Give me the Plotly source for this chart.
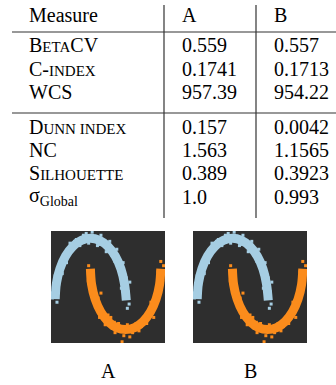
import plotly.graph_objects as go

W, H = 336, 385

# ---- table data ----
header = ["Measure", "A", "B"]
measures_top = ["B<span style='font-size:15px'>ETA</span>CV",
                "C-<span style='font-size:15px'>INDEX</span>",
                "WCS"]
values_a_top = ["0.559", "0.1741", "957.39"]
values_b_top = ["0.557", "0.1713", "954.22"]
measures_bot = ["D<span style='font-size:15px'>UNN INDEX</span>",
                "NC",
                "S<span style='font-size:15px'>ILHOUETTE</span>",
                "σ<sub>Global</sub>"]
values_a_bot = ["0.157", "1.563", "0.389", "1.0"]
values_b_bot = ["0.0042", "1.1565", "0.3923", "0.993"]
panel_labels = ["A", "B"]

# ---- moons data ----
blue_line_x = [1.02, 0.966, 0.866, 0.707, 0.5, 0.259, 0.0, -0.259, -0.5, -0.707, -0.866, -0.966, -1.0]
blue_line_y = [-0.02, 0.259, 0.5, 0.707, 0.866, 0.966, 1.0, 0.966, 0.866, 0.707, 0.5, 0.259, 0.0]
orange_line_x = [0.0, 0.034, 0.134, 0.293, 0.5, 0.741, 1.0, 1.259, 1.5, 1.707, 1.866, 1.966, 2.0]
orange_line_y = [0.5, 0.241, 0.0, -0.207, -0.366, -0.466, -0.5, -0.466, -0.366, -0.207, 0.0, 0.241, 0.5]

blue_pts_x = [0.95, 1.08, 0.9, 1.02, 0.8, 0.93, 0.62, 0.75, 0.45, 0.55, 0.2, 0.3, -0.05, 0.05,
              -0.3, -0.2, -0.55, -0.45, -0.78, -0.65, -0.95, -0.8, -1.05, -0.9, -1.08, -0.95,
              1.1, 0.02, 0.85, 0.38, -0.12, -0.68, -1.0, 1.05, 0.98, 0.7, 0.12, -0.4,
              -0.85, -1.1, 0.88, 0.6, -0.58, 0.25, -0.92, 1.12]
blue_pts_y = [0.05, 0.12, 0.3, 0.35, 0.55, 0.6, 0.72, 0.82, 0.78, 0.95, 0.88, 1.05, 0.92, 1.1,
              0.88, 1.05, 0.78, 0.95, 0.62, 0.8, 0.45, 0.42, 0.2, 0.25, 0.02, -0.05,
              -0.08, 1.15, 0.45, 0.93, 1.08, 0.6, 0.38, -0.15, 0.2, 0.62, 1.02, 0.98,
              0.58, 0.1, 0.18, 0.85, 0.92, 0.9, 0.1, 0.28]
orange_pts_x = [-0.05, 0.08, -0.06, 0.1, 0.05, 0.22, 0.2, 0.38, 0.42, 0.58, 0.7, 0.8, 0.95, 1.05,
                1.2, 1.3, 1.45, 1.55, 1.65, 1.78, 1.8, 1.95, 1.88, 2.05, 1.92, 2.08, 0.9, 0.3,
                0.62, 1.12, 1.38, 1.72, 0.15, 2.0, 0.02, 0.26, 0.5, 0.85, 1.6, 1.98, 1.85, 0.68]
orange_pts_y = [0.55, 0.45, 0.3, 0.2, 0.05, 0.02, -0.15, -0.25, -0.42, -0.3, -0.55, -0.4, -0.6, -0.42,
                -0.55, -0.4, -0.45, -0.3, -0.28, -0.12, -0.3, 0.05, 0.2, 0.3, 0.45, 0.55, -0.7, 0.1,
                -0.48, -0.62, -0.52, -0.05, -0.08, 0.62, 0.12, -0.3, -0.26, -0.52, -0.4, 0.38, -0.05, -0.38]

BLUE = "#a6cee3"
ORANGE = "#fb8c1c"
BG = "#2e2e2e"
FONT = "Liberation Serif"

fig = go.Figure()

for k, ax in enumerate(["", "2"]):
    xa, ya = "x" + ax, "y" + ax
    fig.add_trace(go.Scatter(x=blue_line_x, y=blue_line_y, mode="lines",
                             line=dict(color=BLUE, width=9, shape="spline"),
                             xaxis=xa, yaxis=ya, showlegend=False, hoverinfo="skip"))
    fig.add_trace(go.Scatter(x=orange_line_x, y=orange_line_y, mode="lines",
                             line=dict(color=ORANGE, width=9, shape="spline"),
                             xaxis=xa, yaxis=ya, showlegend=False, hoverinfo="skip"))
    fig.add_trace(go.Scatter(x=blue_pts_x, y=blue_pts_y, mode="markers",
                             marker=dict(color=BLUE, size=3, symbol="square"),
                             xaxis=xa, yaxis=ya, showlegend=False))
    fig.add_trace(go.Scatter(x=orange_pts_x, y=orange_pts_y, mode="markers",
                             marker=dict(color=ORANGE, size=3, symbol="square"),
                             xaxis=xa, yaxis=ya, showlegend=False))

axis_common = dict(showgrid=False, zeroline=False, showticklabels=False, ticks="",
                   showline=False, fixedrange=True)
ydom = [1 - 343 / H, 1 - 231 / H]
fig.update_layout(
    width=W, height=H, margin=dict(l=0, r=0, t=0, b=0),
    paper_bgcolor="white", plot_bgcolor=BG, showlegend=False,
    xaxis=dict(domain=[51 / W, 165 / W], range=[-1.12, 2.12], **axis_common),
    yaxis=dict(domain=ydom, range=[-0.72, 1.12], **axis_common),
    xaxis2=dict(domain=[193 / W, 307 / W], range=[-1.12, 2.12], **axis_common),
    yaxis2=dict(domain=ydom, range=[-0.72, 1.12], anchor="x2", **axis_common),
)
fig.layout.xaxis2.anchor = "y2"

# ---- table text ----
col_x = [27, 180, 272]
ann = []
def add_text(txt, px, py, size=20, xanchor="left"):
    ann.append(dict(text=txt, x=px / W, y=1 - py / H, xref="paper", yref="paper",
                    xanchor=xanchor, yanchor="middle", showarrow=False,
                    font=dict(family=FONT, size=size, color="black")))

header_y = 15
for j, h in enumerate(header):
    add_text(h, col_x[j], header_y)

top_y0, bot_y0, step = 45.5, 127, 23.2
for i, (m, a, b) in enumerate(zip(measures_top, values_a_top, values_b_top)):
    y = top_y0 + i * step
    add_text(m, col_x[0], y); add_text(a, col_x[1], y); add_text(b, col_x[2], y)
for i, (m, a, b) in enumerate(zip(measures_bot, values_a_bot, values_b_bot)):
    y = bot_y0 + i * step
    add_text(m, col_x[0], y); add_text(a, col_x[1], y); add_text(b, col_x[2], y)

for lab, cx in zip(panel_labels, [108, 250]):
    add_text(lab, cx, 371, xanchor="center")

fig.update_layout(annotations=ann)

# ---- table rules ----
line_col = "#333333"
shapes = []
for yy in [32, 113]:
    shapes.append(dict(type="line", xref="paper", yref="paper", x0=12 / W, x1=1,
                       y0=1 - yy / H, y1=1 - yy / H, line=dict(color=line_col, width=1.2)))
for xx in [164, 256]:
    shapes.append(dict(type="line", xref="paper", yref="paper", x0=xx / W, x1=xx / W,
                       y0=1 - 5 / H, y1=1 - 218 / H, line=dict(color=line_col, width=1.2)))
fig.update_layout(shapes=shapes)

fig.write_html("out.html", config={"displayModeBar": False},
               post_script="document.body.style.margin='0';document.body.style.overflow='hidden';")
